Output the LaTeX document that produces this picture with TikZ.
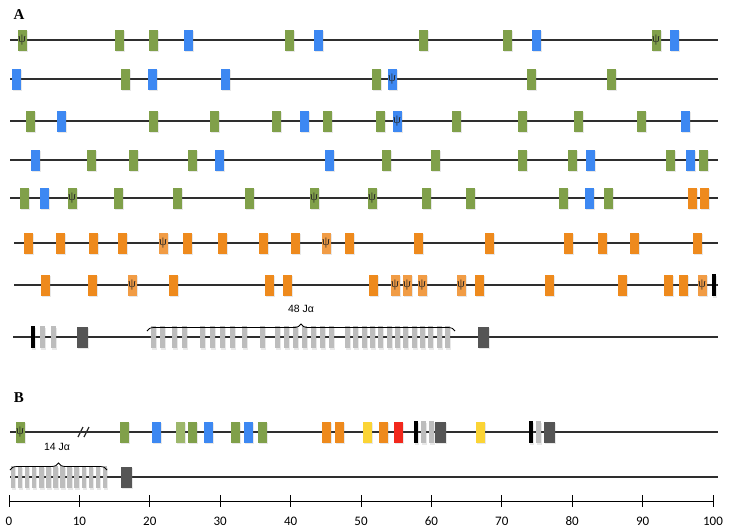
\documentclass[tikz,border=0pt]{standalone}
\usepackage{fontspec}
\setmainfont{Liberation Serif}
\newfontfamily\tickfont{Carlito}
\newfontfamily\jfont{Liberation Sans}
\usetikzlibrary{decorations.pathreplacing, shadows}
\definecolor{segGreen}{HTML}{80A04A}
\definecolor{segGreenLt}{HTML}{9DB76B}
\definecolor{segBlue}{HTML}{3D88F2}
\definecolor{segOrange}{HTML}{EE8A1D}
\definecolor{segOrangeLt}{HTML}{F19C45}
\definecolor{segYellow}{HTML}{FBD435}
\definecolor{segRed}{HTML}{F2281C}
\definecolor{segGray}{HTML}{BDBDBD}
\definecolor{segDark}{HTML}{555555}
\definecolor{lineGray}{HTML}{2E2E2E}
\tikzset{
  seg/.style={rectangle, inner sep=0pt, minimum width=9pt, minimum height=21pt,
              drop shadow={opacity=0.18, shadow xshift=1pt, shadow yshift=-1.5pt}},
  psi/.style={label={[inner sep=0pt, text=black!85,
              font=\fontsize{12.5}{12.5}\selectfont]center:ψ}},
  sGreen/.style={seg, fill=segGreen},
  sGreenLt/.style={seg, fill=segGreenLt},
  sGreenP/.style={seg, fill=segGreen, psi},
  sBlue/.style={seg, fill=segBlue},
  sBlueP/.style={seg, fill=segBlue, psi},
  sOrange/.style={seg, fill=segOrange},
  sOrangeP/.style={seg, fill=segOrangeLt, psi},
  sYellow/.style={seg, fill=segYellow},
  sRed/.style={seg, fill=segRed},
  sDark/.style={seg, fill=segDark, minimum width=11pt},
  sBlack/.style={seg, fill=black, minimum width=4pt, minimum height=22pt},
  jGray/.style={seg, fill=segGray, minimum width=5pt, minimum height=22pt},
  backbone/.style={draw=lineGray, line width=1.2pt},
  jbrace/.style={draw=black, line width=0.8pt, decorate,
                 decoration={brace, amplitude=7pt}},
  jlab/.style={font=\jfont\fontsize{10.5}{12}\selectfont, inner sep=1pt},
  panel/.style={font=\fontsize{15}{15}\selectfont\bfseries, inner sep=0pt},
  tick/.style={font=\tickfont\fontsize{13}{13}\selectfont, inner sep=0pt},
}
\begin{document}
\begin{tikzpicture}[x=1pt, y=-1pt]
  \useasboundingbox (0,0) rectangle (729,531);
  \node[panel] (labA) at (19,15) {A};
  \node[panel] (labB) at (19,398) {B};
  % backbones
  \foreach \r/\y/\xs in {1/40/10, 2/79/10, 3/121/10, 4/160/10, 5/198/10,
                         6/243/14, 7/285/14, 8/337/13, 9/432/10, 10/477/10} {
    \coordinate (r\r s) at (\xs,\y);
    \coordinate (r\r e) at (718,\y);
    \draw[backbone] (r\r s) -- (r\r e);
  }
  % panel A
  \foreach \x/\s [count=\i] in {22/sGreenP, 119/sGreen, 153/sGreen, 188/sBlue,
      289/sGreen, 318/sBlue, 423/sGreen, 507/sGreen, 536/sBlue, 656/sGreenP, 674/sBlue}
    \node[\s] (a1-\i) at (\x,40) {};
  \foreach \x/\s [count=\i] in {16/sBlue, 125/sGreen, 152/sBlue, 225/sBlue,
      376/sGreen, 392/sBlueP, 531/sGreen, 611/sGreen}
    \node[\s] (a2-\i) at (\x,79) {};
  \foreach \x/\s [count=\i] in {30/sGreen, 61/sBlue, 153/sGreen, 214/sGreen,
      276/sGreen, 304/sBlue, 327/sGreen, 380/sGreen, 397/sBlueP, 456/sGreen,
      522/sGreen, 578/sGreen, 641/sGreen, 685/sBlue}
    \node[\s] (a3-\i) at (\x,121) {};
  \foreach \x/\s [count=\i] in {35/sBlue, 91/sGreen, 133/sGreen, 192/sGreen,
      219/sBlue, 329/sBlue, 386/sGreen, 435/sGreen, 522/sGreen, 572/sGreen,
      590/sBlue, 670/sGreen, 690/sBlue, 703/sGreen}
    \node[\s] (a4-\i) at (\x,160) {};
  \foreach \x/\s [count=\i] in {24/sGreen, 44/sBlue, 72/sGreenP, 118/sGreen,
      177/sGreen, 249/sGreen, 314/sGreenP, 372/sGreenP, 426/sGreen, 470/sGreen,
      563/sGreen, 589/sBlue, 608/sGreen, 692/sOrange, 704/sOrange}
    \node[\s] (a5-\i) at (\x,198) {};
  \foreach \x/\s [count=\i] in {28/sOrange, 60/sOrange, 93/sOrange, 122/sOrange,
      163/sOrangeP, 187/sOrange, 222/sOrange, 263/sOrange, 295/sOrange,
      326/sOrangeP, 349/sOrange, 418/sOrange, 489/sOrange, 568/sOrange,
      602/sOrange, 634/sOrange, 697/sOrange}
    \node[\s] (a6-\i) at (\x,243) {};
  \foreach \x/\s [count=\i] in {45/sOrange, 92/sOrange, 132/sOrangeP, 173/sOrange,
      269/sOrange, 287/sOrange, 373/sOrange, 395/sOrangeP, 407/sOrangeP,
      422/sOrangeP, 461/sOrangeP, 479/sOrange, 549/sOrange, 622/sOrange,
      668/sOrange, 683/sOrange, 702/sOrangeP, 714/sBlack}
    \node[\s] (a7-\i) at (\x,285) {};
  % J segments, panel A
  \foreach \x/\s [count=\i] in {33/sBlack, 42/jGray, 53/jGray, 82/sDark, 483/sDark}
    \node[\s] (a8-\i) at (\x,337) {};
  \foreach \x [count=\i] in {153, 162, 174, 184, 202, 212, 222, 232, 244, 262,
      277, 286, 295, 304, 313, 322, 331, 347, 355, 364, 372, 380, 389, 397,
      405, 414, 422, 430, 439, 447}
    \node[jGray] (ja-\i) at (\x,337) {};
  \coordinate (braceAl) at (147,331);
  \coordinate (braceAr) at (455,331);
  \draw[jbrace] (braceAl) -- (braceAr);
  \node[jlab] (ja-lab) at (301,309) {48 Jα};
  % panel B
  \foreach \x/\s [count=\i] in {20/sGreenP, 124/sGreen, 156/sBlue, 180/sGreenLt,
      192/sGreen, 208/sBlue, 235/sGreen, 248/sBlue, 262/sGreen, 326/sOrange,
      339/sOrange, 367/sYellow, 383/sOrange, 398/sRed, 416/sBlack, 423/jGray,
      431/jGray, 440/sDark, 480/sYellow, 531/sBlack, 538/jGray, 549/sDark}
    \node[\s] (b1-\i) at (\x,432) {};
  \draw[lineGray, line width=1.2pt] (78,437) -- (83,427) (84,437) -- (89,427);
  \foreach \i in {0,...,13}
    \node[jGray, minimum width=4.5pt] (jb-\i) at ({13+7.08*\i},477) {};
  \node[sDark] (b2-1) at (126,477) {};
  \coordinate (braceBl) at (10,470);
  \coordinate (braceBr) at (107,470);
  \draw[jbrace] (braceBl) -- (braceBr);
  \node[jlab] (jb-lab) at (57,447) {14 Jα};
  % scale
  \coordinate (ax0) at (9,501);
  \coordinate (ax1) at (713,501);
  \draw[black, line width=1pt] (ax0) -- (ax1);
  \foreach \t in {0,10,...,100} {
    \draw[black, line width=1pt] ({9+7.04*\t},495) -- ({9+7.04*\t},507);
    \node[tick] (t\t) at ({9+7.04*\t},521) {\t};
  }
\end{tikzpicture}
\end{document}
